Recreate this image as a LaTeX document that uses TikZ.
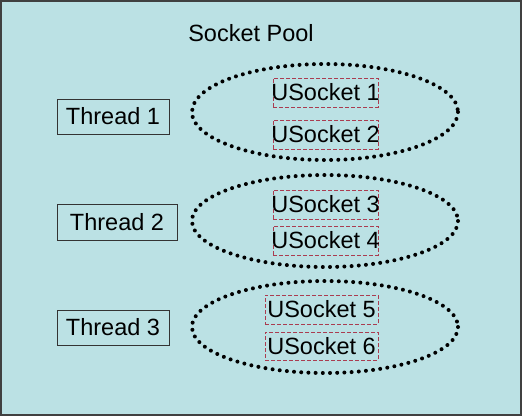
\documentclass[tikz,border=0pt]{standalone}
\usepackage{fontspec}
\setmainfont{Liberation Sans}
\definecolor{bg}{RGB}{187,225,228}
\definecolor{sockred}{RGB}{170,60,80}
\newcommand{\zw}[1]{\makebox[0pt]{#1}}
\begin{document}
\begin{tikzpicture}[x=1pt,y=-1pt,
  txt/.style={font=\fontsize{23.5}{26}\selectfont},
  thread/.style={txt,draw=black!80,line width=0.8pt,inner sep=0pt},
  sock/.style={txt,draw=sockred,dash pattern=on 4pt off 2pt,line width=0.7pt,inner sep=0pt},
  pool/.style={draw=black,line width=4pt,line cap=round,dash pattern=on 0pt off 7.2pt}]
\useasboundingbox (0,0) rectangle (522,416);
\draw[fill=bg,draw=black!75,line width=2pt] (1,1) rectangle (521,415);
\node[txt] (title) at (251,33) {Socket Pool};
% threads
\node[thread,minimum width=112pt,minimum height=35pt] (t1) at (113,116.5) {\zw{Thread 1}};
\node[thread,minimum width=120pt,minimum height=36pt] (t2) at (117,222) {\zw{Thread 2}};
\node[thread,minimum width=112pt,minimum height=35pt] (t3) at (113,327.5) {\zw{Thread 3}};
% ellipses
\draw[pool] (325,112) ellipse [x radius=133,y radius=48];
\draw[pool] (325,221) ellipse [x radius=133,y radius=46];
\draw[pool] (325,327) ellipse [x radius=133,y radius=46];
% sockets
\node[sock,minimum width=105pt,minimum height=29pt] (s1) at (325.5,92.5) {\zw{USocket 1}};
\node[sock,minimum width=105pt,minimum height=29pt] (s2) at (325.5,134.5) {\zw{USocket 2}};
\node[sock,minimum width=105pt,minimum height=29pt] (s3) at (325.5,204.5) {\zw{USocket 3}};
\node[sock,minimum width=105pt,minimum height=29pt] (s4) at (325.5,240.5) {\zw{USocket 4}};
\node[sock,minimum width=113pt,minimum height=29pt] (s5) at (321.5,309.5) {\zw{USocket 5}};
\node[sock,minimum width=113pt,minimum height=28pt] (s6) at (321.5,346) {\zw{USocket 6}};
\end{tikzpicture}
\end{document}
